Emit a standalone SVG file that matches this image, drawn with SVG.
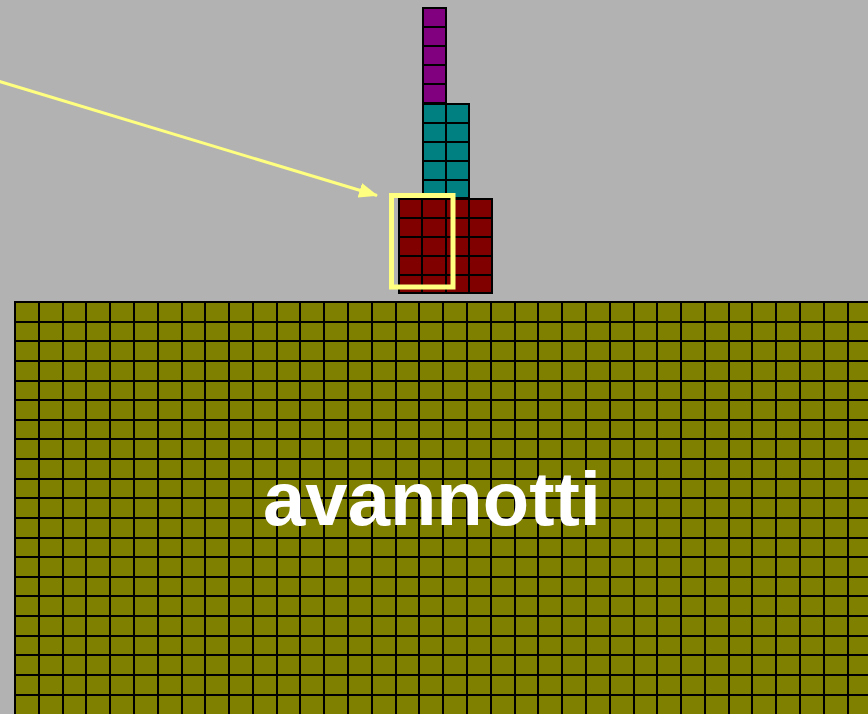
<svg xmlns="http://www.w3.org/2000/svg" width="868" height="714" viewBox="0 0 868 714">
  <defs>
    <style>
      .cell-line { stroke: #000; stroke-width: 2; fill: none; }
      .hl { stroke: #ffff80; fill: none; }
      .label { font-family: "Liberation Sans", Arial, sans-serif; font-weight: bold; fill: #fff; }
    </style>
    <marker id="head" markerUnits="userSpaceOnUse" markerWidth="19" markerHeight="15" refX="18" refY="7.5" orient="auto">
      <path d="M0,0 L19,7.5 L0,15 Z" fill="#ffff80"/>
    </marker>
  </defs>

  <!-- backdrop -->
  <rect x="0" y="0" width="868" height="714" fill="#b2b2b2"/>

  <!-- ground block: 36 x 21 cells -->
  <g id="ground">
    <rect x="14" y="301" width="860" height="420" fill="#808000"/>
    <path class="cell-line" d="
      M15,301 V714 M39,301 V714 M63,301 V714 M86,301 V714 M110,301 V714 M134,301 V714
      M158,301 V714 M182,301 V714 M205,301 V714 M229,301 V714 M253,301 V714 M277,301 V714
      M300,301 V714 M324,301 V714 M348,301 V714 M372,301 V714 M396,301 V714 M419,301 V714
      M443,301 V714 M467,301 V714 M491,301 V714 M515,301 V714 M538,301 V714 M562,301 V714
      M586,301 V714 M610,301 V714 M634,301 V714 M657,301 V714 M681,301 V714 M705,301 V714
      M729,301 V714 M752,301 V714 M776,301 V714 M800,301 V714 M824,301 V714 M848,301 V714
      M14,302 H868 M14,322 H868 M14,341 H868 M14,361 H868 M14,381 H868 M14,400 H868
      M14,420 H868 M14,439 H868 M14,459 H868 M14,479 H868 M14,498 H868 M14,518 H868
      M14,538 H868 M14,557 H868 M14,577 H868 M14,596 H868 M14,616 H868 M14,636 H868
      M14,655 H868 M14,675 H868 M14,695 H868"/>
    <text class="label" x="432" y="525" font-size="76" text-anchor="middle">avannotti</text>
  </g>

  <!-- top column: 1 x 5 -->
  <g id="column-purple">
    <rect x="422" y="7" width="24" height="96" fill="#800080"/>
    <path class="cell-line" d="M423,8 H446 V103 H423 Z M423,27 H446 M423,46 H446 M423,65 H446 M423,84 H446"/>
  </g>

  <!-- middle column: 2 x 5 -->
  <g id="column-teal">
    <rect x="422" y="103" width="47.5" height="95" fill="#008080"/>
    <path class="cell-line" d="M423,104 H469 V198 H423 Z M446,104 V198 M423,123 H469 M423,142 H469 M423,161 H469 M423,180 H469"/>
  </g>

  <!-- base block: 4 x 5 -->
  <g id="block-red">
    <rect x="398" y="198" width="95" height="96" fill="#800000"/>
    <path class="cell-line" d="M399,199 H492 V293 H399 Z M422,199 V293 M446,199 V293 M469,199 V293
      M399,218 H492 M399,237 H492 M399,256 H492 M399,275 H492"/>
  </g>

  <!-- highlight frame -->
  <g id="highlight">
    <rect class="hl" x="391.5" y="195.5" width="61.5" height="91.5" stroke-width="5"/>
  </g>

  <!-- pointer -->
  <g id="connectors">
    <line class="hl" x1="-2" y1="81" x2="377" y2="195.5" stroke-width="3" marker-end="url(#head)"/>
  </g>
</svg>
